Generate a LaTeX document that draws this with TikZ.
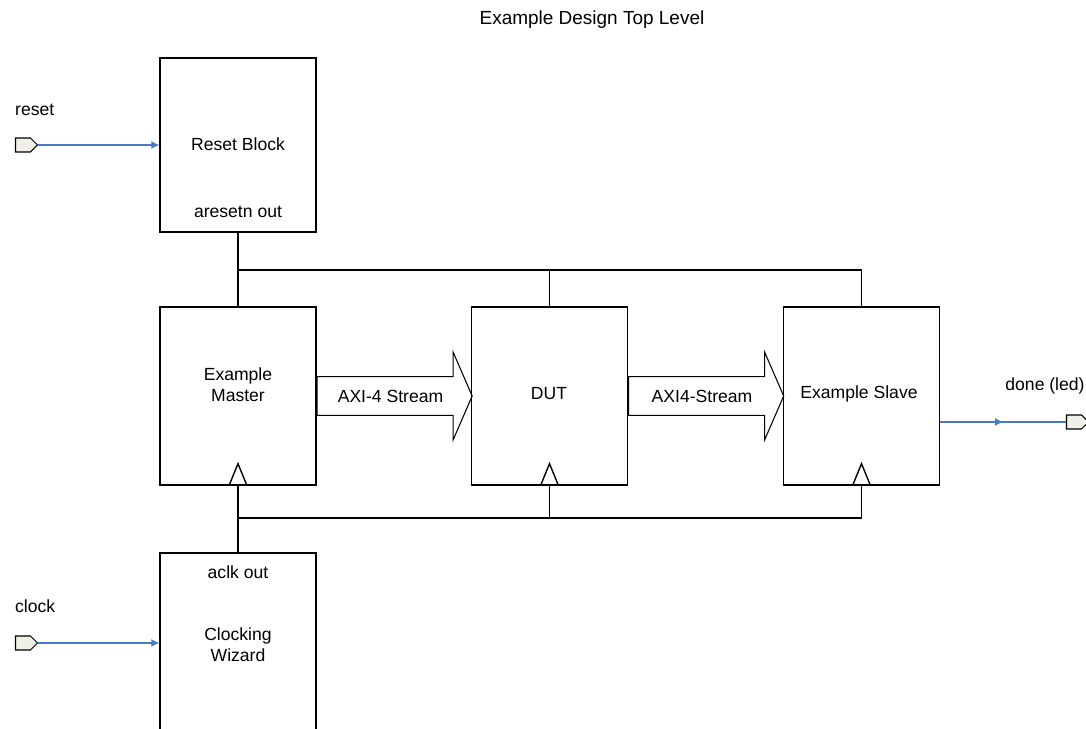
\documentclass[tikz,border=0pt]{standalone}
\usepackage{fontspec}
\setmainfont{Liberation Sans}
\usepackage{xcolor}
\usetikzlibrary{shapes.arrows,shapes.symbols,arrows.meta,decorations.markings}
\definecolor{wireblue}{RGB}{72,122,200}
\definecolor{portfill}{RGB}{240,240,232}

\begin{document}
\begin{tikzpicture}[x=0.02cm,y=-0.02cm,font=\fontsize{10}{12}\selectfont,
	block/.style={draw,line width=0.8pt,minimum width=3.12cm,inner sep=0},
	port/.style={signal,signal to=east,draw,fill=portfill,line width=0.6pt,minimum width=0.44cm,minimum height=0.28cm,inner sep=0},
	wire/.style={wireblue,line width=0.6pt},
	bus/.style={single arrow,draw,line width=0.6pt,minimum width=1.76cm,minimum height=3.1cm,single arrow head extend=0.47cm,single arrow tip angle=133,inner xsep=2pt,inner ysep=6.6pt,anchor=tail},
	net/.style={line width=0.8pt}]
	\useasboundingbox (0,0) rectangle (1086,729);
	\node[font=\fontsize{10.8}{13}\selectfont] (title) at (592,20) {Example Design Top Level};

	\node[block,minimum height=3.48cm] (reset) at (238,145) {};
	\node (resetname) at (238,144) {Reset Block};
	\node (aresetn) at (238,212) {aresetn out};

	\node[block,minimum height=3.56cm] (master) at (238,396) {};
	\node[align=center] (mastername) at (238,385) {Example\\Master};
	\node[block,minimum height=3.56cm] (dut) at (549.5,396) {};
	\node (dutname) at (549,394) {DUT};
	\node[block,minimum height=3.56cm] (slave) at (861.5,396) {};
	\node (slavename) at (859,394) {Example Slave};

	\node[block,minimum height=4cm] (wizard) at (238,653) {};
	\node (aclk) at (238,572) {aclk out};
	\node[align=center] (wizardname) at (238,645) {Clocking\\Wizard};

	\node[bus] (stream1) at (master.east) {AXI-4 Stream};
	\node[bus] (stream2) at (dut.east) {AXI4-Stream};

	\coordinate (rstbus) at (238,270);
	\draw[net] (reset.south) -- (master.north);
	\draw[net] (rstbus) -| (slave.north);
	\draw[net] (rstbus -| dut.north) -- (dut.north);

	\coordinate (clkbus) at (238,518);
	\draw[net] (wizard.north) -- (master.south);
	\draw[net] (clkbus) -| (slave.south);
	\draw[net] (clkbus -| dut.south) -- (dut.south);
	\foreach \blk in {master,dut,slave}
		\draw[net] (\blk.south) ++(-9,0) -- ++(9,-22) -- ++(9,22);

	\node[anchor=west] (resetlabel) at (9,110) {reset};
	\node[port] (resetin) at (23,145) {};
	\draw[wire,-{Latex[length=0.16cm,width=0.16cm]}] (resetin.east) -- (reset.west);

	\node[anchor=west] (clocklabel) at (9,606) {clock};
	\node[port] (clockin) at (23,643) {};
	\draw[wire,-{Latex[length=0.16cm,width=0.16cm]}] (clockin.east) -- (clockin.east -| wizard.west);

	\node (donelabel) at (1045,386) {done (led)};
	\node[port] (doneout) at (1074,422) {};
	\draw[wire,decoration={markings,mark=at position 0.5 with {\arrow{Latex[length=0.16cm,width=0.16cm]}}},postaction={decorate}] (doneout.west -| slave.east) -- (doneout.west);
\end{tikzpicture}
\end{document}
